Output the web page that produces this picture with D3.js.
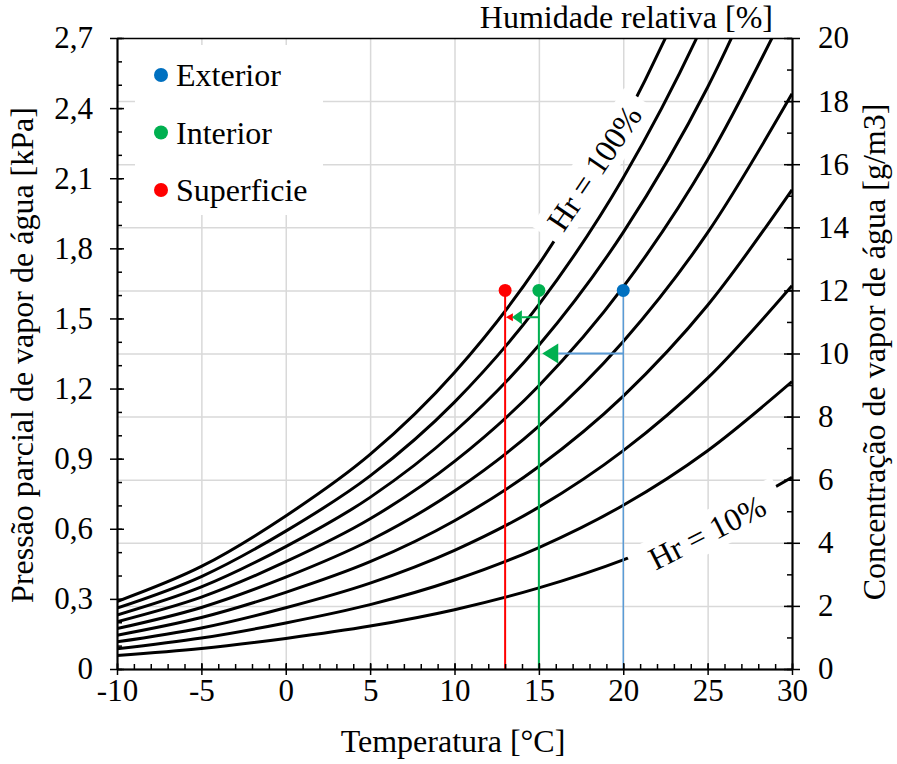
<!DOCTYPE html>
<html>
<head>
<meta charset="utf-8">
<script src="https://cdn.jsdelivr.net/npm/d3@7"></script>
<style>
  body { margin: 0; background: #fff; }
  text { font-family: "Liberation Serif", "Times New Roman", serif; fill: #000; }
</style>
</head>
<body>
<div id="chart"></div>
<script>
// temperatures (°C) at which the curves were read
const temps = [-10, -5, 0, 5, 10, 15, 20, 25, 30];
// vapour concentration (g/m3) for each relative humidity curve
const hr100 = [2.14, 3.25, 4.85, 6.80, 9.40, 12.83, 17.30, 23.05, 30.38];
const hr90  = [1.93, 2.93, 4.37, 6.12, 8.46, 11.55, 15.57, 20.75, 27.34];
const hr80  = [1.71, 2.60, 3.88, 5.44, 7.52, 10.26, 13.84, 18.44, 24.30];
const hr70  = [1.50, 2.28, 3.40, 4.76, 6.58, 8.98, 12.11, 16.14, 21.27];
const hr60  = [1.28, 1.95, 2.91, 4.08, 5.64, 7.70, 10.38, 13.83, 18.23];
const hr50  = [1.07, 1.63, 2.43, 3.40, 4.70, 6.42, 8.65, 11.53, 15.19];
const hr40  = [0.86, 1.30, 1.94, 2.72, 3.76, 5.13, 6.92, 9.22, 12.15];
const hr30  = [0.64, 0.98, 1.46, 2.04, 2.82, 3.85, 5.19, 6.92, 9.11];
const hr20  = [0.43, 0.65, 0.97, 1.36, 1.88, 2.57, 3.46, 4.61, 6.08];
const curves = [hr100, hr90, hr80, hr70, hr60, hr50, hr40, hr30, hr20];

// state points
const pointNames = ["Exterior", "Interior", "Superficie"];
const pointTemps = [20, 15, 13];
const pointConc  = [12, 12, 12];

// arrows: start temp, tip temp, concentration
const arrowFrom = [20, 15];
const arrowTo   = [15.2, 13.4];
const arrowConc = [10, 11.15];

// ticks
const xTicks = [-10, -5, 0, 5, 10, 15, 20, 25, 30];
const xMinor = d3.range(-10, 31, 1);
const yLeftTicks = [0, 0.3, 0.6, 0.9, 1.2, 1.5, 1.8, 2.1, 2.4, 2.7];
const yLeftMinor = d3.range(0, 28, 1).map(d => d / 10);
const yRightTicks = [0, 2, 4, 6, 8, 10, 12, 14, 16, 18, 20];
const yRightMinor = d3.range(0, 21, 1);

const colors = { Exterior: "#0070C0", Interior: "#00B050", Superficie: "#FF0000" };
const dropColors = { Exterior: "#5B9BD5", Interior: "#00B050", Superficie: "#FF0000" };

const W = 897, H = 764;
const mLeft = 117, mRight = 792, mTop = 38, mBottom = 669;

const svg = d3.select("#chart").append("svg")
    .attr("width", W).attr("height", H);
svg.append("rect").attr("width", W).attr("height", H).attr("fill", "#fff");

const x = d3.scaleLinear().domain([-10, 30]).range([mLeft, mRight]);
const yL = d3.scaleLinear().domain([0, 2.7]).range([mBottom, mTop]);
const yR = d3.scaleLinear().domain([0, 20]).range([mBottom, mTop]);

const ptBR = d3.formatLocale({ decimal: ",", thousands: ".", grouping: [3], currency: ["", ""] });
const fmtL = d => d === 0 ? "0" : ptBR.format(".1f")(d);

svg.append("clipPath").attr("id", "plot")
  .append("rect").attr("x", mLeft).attr("y", mTop)
  .attr("width", mRight - mLeft).attr("height", mBottom - mTop);

// grid
svg.append("g")
    .attr("transform", `translate(0,${mBottom})`)
    .call(d3.axisBottom(x).tickValues(xTicks.slice(1, -1)).tickSize(-(mBottom - mTop)).tickFormat(""))
    .call(g => g.select(".domain").remove())
    .selectAll("line").attr("stroke", "#d9d9d9").attr("stroke-width", 1.5);
svg.append("g")
    .attr("transform", `translate(${mLeft},0)`)
    .call(d3.axisLeft(yR).tickValues(yRightTicks.slice(1, -1)).tickSize(-(mRight - mLeft)).tickFormat(""))
    .call(g => g.select(".domain").remove())
    .selectAll("line").attr("stroke", "#d9d9d9").attr("stroke-width", 1.5);

// legend box
svg.append("rect").attr("x", 135).attr("y", 45).attr("width", 188).attr("height", 170).attr("fill", "#fff");

// curves
const line = d3.line()
    .x((d, i) => x(temps[i]))
    .y(d => yR(d))
    .curve(d3.curveMonotoneX);
svg.append("g").attr("clip-path", "url(#plot)")
  .selectAll("path").data(curves).join("path")
    .attr("d", line)
    .attr("fill", "none").attr("stroke", "#000").attr("stroke-width", 3);

// curve labels with white background
function curveLabel(txt, cx, cy, angle, size, padX) {
  const g = svg.append("g").attr("transform", `translate(${cx},${cy}) rotate(${angle})`);
  const t = g.append("text").attr("text-anchor", "middle").attr("dy", "0.35em")
      .style("font-size", size + "px").text(txt);
  const bb = t.node().getBBox();
  g.insert("rect", "text").attr("x", bb.x - padX).attr("y", bb.y - 2)
      .attr("width", bb.width + 2 * padX).attr("height", bb.height + 4).attr("fill", "#fff");
}
curveLabel("Hr = 100%", 594, 168, -56, 32, 12);
curveLabel("Hr = 10%", 707, 532, -27, 32, 19);

// drop lines
svg.append("g").selectAll("line").data(pointNames).join("line")
    .attr("x1", (d, i) => x(pointTemps[i])).attr("x2", (d, i) => x(pointTemps[i]))
    .attr("y1", (d, i) => yR(pointConc[i])).attr("y2", yR(0))
    .attr("stroke", d => dropColors[d])
    .attr("stroke-width", d => d === "Exterior" ? 1.5 : 2);

// arrows
function arrow(i, lineColor, headColor, len, half) {
  const yy = yR(arrowConc[i]);
  const tip = x(arrowTo[i]);
  svg.append("line").attr("x1", x(arrowFrom[i])).attr("x2", tip + len)
      .attr("y1", yy).attr("y2", yy).attr("stroke", lineColor).attr("stroke-width", 2);
  svg.append("path")
      .attr("d", `M${tip},${yy}L${tip + len},${yy - half}L${tip + len},${yy + half}Z`)
      .attr("fill", headColor);
}
// small red head just behind the interior arrow
const rTip = x(arrowTo[1]) - 6;
const ry = yR(arrowConc[1]);
svg.append("path").attr("d", `M${rTip},${ry}L${rTip + 7},${ry - 4}L${rTip + 7},${ry + 4}Z`).attr("fill", "#FF0000");
arrow(0, "#5B9BD5", "#00B050", 16, 10);
arrow(1, "#00B050", "#00B050", 10, 7);

// points
svg.append("g").selectAll("circle").data(pointNames).join("circle")
    .attr("cx", (d, i) => x(pointTemps[i])).attr("cy", (d, i) => yR(pointConc[i]))
    .attr("r", 6.5).attr("fill", d => colors[d]);

// legend
const leg = svg.append("g").selectAll("g").data(pointNames).join("g")
    .attr("transform", (d, i) => `translate(161,${75 + i * 57.5})`);
leg.append("circle").attr("r", 7).attr("fill", d => colors[d]);
leg.append("text").attr("x", 15).attr("dy", "0.35em").style("font-size", "32px").text(d => d);

// axes
function style(g) {
  g.select(".domain").attr("stroke", "#000").attr("stroke-width", 1.5);
  g.selectAll(".tick line").attr("stroke", "#000").attr("stroke-width", 1.5);
  g.selectAll("text").style("font-size", "31px").attr("fill", "#000");
}
// bottom
svg.append("g").attr("transform", `translate(0,${mBottom})`)
    .call(d3.axisTop(x).tickValues(xMinor).tickSize(5).tickSizeOuter(0).tickFormat("")).call(style);
svg.append("g").attr("transform", `translate(0,${mBottom})`)
    .call(d3.axisTop(x).tickValues(xTicks).tickSize(6).tickSizeOuter(0).tickFormat("")).call(style);
svg.append("g").attr("transform", `translate(0,${mBottom})`)
    .call(d3.axisBottom(x).tickValues(xTicks).tickSize(6).tickPadding(4).tickSizeOuter(0)
      .tickFormat(d => String(d))).call(style);
// left
svg.append("g").attr("transform", `translate(${mLeft},0)`)
    .call(d3.axisRight(yL).tickValues(yLeftMinor).tickSize(5).tickSizeOuter(0).tickFormat("")).call(style);
svg.append("g").attr("transform", `translate(${mLeft},0)`)
    .call(d3.axisRight(yL).tickValues(yLeftTicks).tickSize(7).tickSizeOuter(0).tickFormat("")).call(style);
svg.append("g").attr("transform", `translate(${mLeft},0)`)
    .call(d3.axisLeft(yL).tickValues(yLeftTicks).tickSize(7).tickPadding(17).tickSizeOuter(0)
      .tickFormat(fmtL)).call(style);
// right
svg.append("g").attr("transform", `translate(${mRight},0)`)
    .call(d3.axisLeft(yR).tickValues(yRightMinor).tickSize(5).tickSizeOuter(0).tickFormat("")).call(style);
svg.append("g").attr("transform", `translate(${mRight},0)`)
    .call(d3.axisLeft(yR).tickValues(yRightTicks).tickSize(8).tickSizeOuter(0).tickFormat("")).call(style);
svg.append("g").attr("transform", `translate(${mRight},0)`)
    .call(d3.axisRight(yR).tickValues(yRightTicks).tickSize(8).tickPadding(18).tickSizeOuter(0)
      .tickFormat(d => String(d))).call(style);
// top border
svg.append("g").attr("transform", `translate(0,${mTop})`)
    .call(d3.axisTop(x).tickValues([]).tickSizeOuter(0)).call(style);

// titles
svg.append("text").attr("x", 773).attr("y", 28).attr("text-anchor", "end")
    .style("font-size", "32px").text("Humidade relativa [%]");
svg.append("text").attr("x", 453).attr("y", 752).attr("text-anchor", "middle")
    .style("font-size", "32px").text("Temperatura [°C]");
svg.append("text").attr("transform", "translate(33,355) rotate(-90)").attr("text-anchor", "middle")
    .style("font-size", "32px").text("Pressão parcial de vapor de água [kPa]");
svg.append("text").attr("transform", "translate(885,352) rotate(-90)").attr("text-anchor", "middle")
    .style("font-size", "32px").text("Concentração de vapor de água [g/m3]");
</script>
</body>
</html>
